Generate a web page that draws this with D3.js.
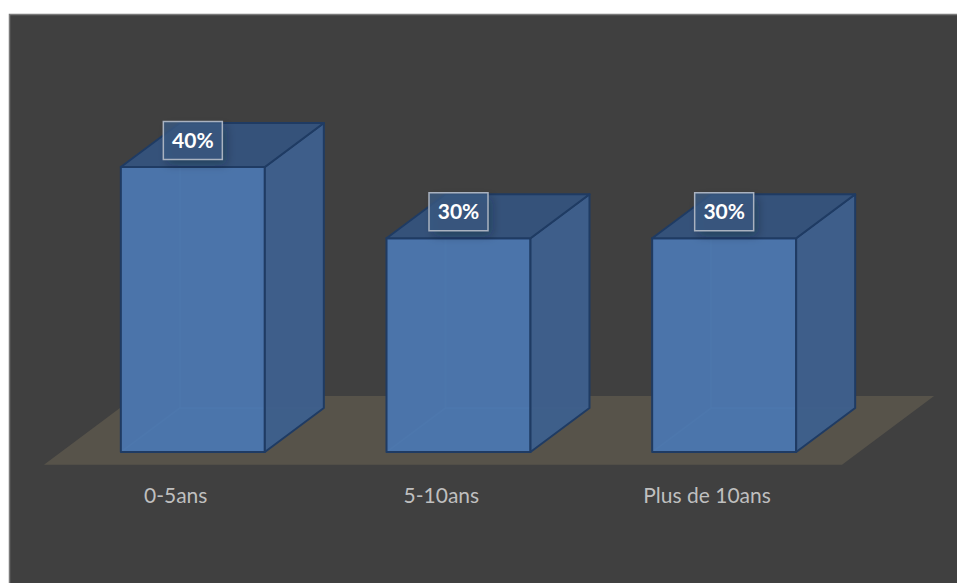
<!DOCTYPE html>
<html>
<head>
<meta charset="utf-8">
<script src="https://cdn.jsdelivr.net/npm/d3@7"></script>
<style>
  html, body { margin: 0; padding: 0; background: #ffffff; }
  svg { display: block; }
</style>
</head>
<body>
<script>
// Share of respondents by seniority band
const categories = ["0-5ans", "5-10ans", "Plus de 10ans"];
const values = [40, 30, 30];
const valueLabels = ["40%", "30%", "30%"];

const W = 957, H = 583;
const svg = d3.select("body").append("svg").attr("width", W).attr("height", H);

const defs = svg.append("defs");
const shadow = defs.append("filter").attr("id", "lblShadow")
  .attr("x", "-50%").attr("y", "-50%").attr("width", "200%").attr("height", "200%");
shadow.append("feDropShadow").attr("dx", 4).attr("dy", 5).attr("stdDeviation", 5)
  .attr("flood-color", "#0d1a2c").attr("flood-opacity", 0.55);

// chart area
svg.append("rect").attr("x", 9.5).attr("y", 14.5).attr("width", W).attr("height", H)
  .attr("fill", "#404040").attr("stroke", "#7a7a7a").attr("stroke-width", 1.5);

// scales
const x = d3.scaleBand().domain(categories).range([60, 857])
  .paddingInner(0.458).paddingOuter(0.229);
const y = d3.scaleLinear().domain([0, 40]).range([452, 167]);

// depth vector for the 3D extrusion
const dx = 59, dy = -44;
// floor extends a little in front of and behind the bars
const fFront = -0.29, fBack = 1.27;
const base = y(0);

const floorLeft = 44, floorRight = 842;
const floorPts = [
  [floorLeft, base + fFront * dy],
  [floorRight, base + fFront * dy],
  [floorRight + (fBack - fFront) * dx, base + fBack * dy],
  [floorLeft + (fBack - fFront) * dx, base + fBack * dy]
];
svg.append("polygon").attr("points", floorPts.map(p => p.join(",")).join(" "))
  .attr("fill", "#57534a");

const line = d3.line();
const pts = arr => arr.map(p => p.join(",")).join(" ");
const bars = svg.append("g");

categories.forEach((c, i) => {
  const x0 = x(c), x1 = x(c) + x.bandwidth();
  const yb = y(0), yt = y(values[i]);
  const g = bars.append("g");

  // hidden back, left and bottom faces, seen through the translucent front
  g.append("polygon")
    .attr("points", pts([[x0 + dx, yb + dy], [x1 + dx, yb + dy], [x1 + dx, yt + dy], [x0 + dx, yt + dy]]))
    .attr("fill", "#44699b");
  g.append("polygon")
    .attr("points", pts([[x0, yb], [x0 + dx, yb + dy], [x0 + dx, yt + dy], [x0, yt]]))
    .attr("fill", "#44699b");
  g.append("polygon")
    .attr("points", pts([[x0, yb], [x1, yb], [x1 + dx, yb + dy], [x0 + dx, yb + dy]]))
    .attr("fill", "#476ea3");
  g.append("path").attr("d", line([[x0, yb], [x0 + dx, yb + dy], [x1 + dx, yb + dy]]))
    .attr("fill", "none").attr("stroke", "#5a88c4").attr("stroke-width", 1.5).attr("opacity", 0.55);
  g.append("path").attr("d", line([[x0 + dx, yb + dy], [x0 + dx, yt + dy]]))
    .attr("fill", "none").attr("stroke", "#5a88c4").attr("stroke-width", 1.5).attr("opacity", 0.45);

  // front face
  g.append("polygon")
    .attr("points", pts([[x0, yb], [x1, yb], [x1, yt], [x0, yt]]))
    .attr("fill", "#4c77ad").attr("fill-opacity", 0.85)
    .attr("stroke", "#1f3b63").attr("stroke-width", 2).attr("stroke-linejoin", "round");
  // right side face
  g.append("polygon")
    .attr("points", pts([[x1, yb], [x1 + dx, yb + dy], [x1 + dx, yt + dy], [x1, yt]]))
    .attr("fill", "#3e5e89").attr("fill-opacity", 0.95)
    .attr("stroke", "#1f3b63").attr("stroke-width", 2).attr("stroke-linejoin", "round");
  // top face
  g.append("polygon")
    .attr("points", pts([[x0, yt], [x1, yt], [x1 + dx, yt + dy], [x0 + dx, yt + dy]]))
    .attr("fill", "#355279").attr("fill-opacity", 0.97)
    .attr("stroke", "#1f3b63").attr("stroke-width", 2).attr("stroke-linejoin", "round");

  // value label
  const cx = x0 + x.bandwidth() / 2, cy = yt - 26.5;
  const lbl = svg.append("g");
  lbl.append("rect").attr("x", cx - 29.5).attr("y", cy - 19).attr("width", 59).attr("height", 38)
    .attr("fill", "#39597f").attr("fill-opacity", 0.6)
    .attr("filter", "url(#lblShadow)");
  lbl.append("rect").attr("x", cx - 29.5).attr("y", cy - 19).attr("width", 59).attr("height", 38)
    .attr("fill", "#3a5a84").attr("fill-opacity", 0.5)
    .attr("stroke", "#a9b2c0").attr("stroke-width", 1.5);
  lbl.append("text").attr("x", cx).attr("y", cy + 7.5)
    .attr("text-anchor", "middle")
    .attr("font-family", "Lato, 'Open Sans', sans-serif").attr("font-weight", 700)
    .attr("font-size", 21).attr("fill", "#ffffff")
    .text(valueLabels[i]);

  // category label, centred at the floor's front edge
  svg.append("text")
    .attr("x", cx + fFront * dx).attr("y", 503)
    .attr("text-anchor", "middle")
    .attr("font-family", "Lato, 'Open Sans', sans-serif")
    .attr("font-size", 21).attr("fill", "#bfbfbf")
    .text(c);
});
</script>
</body>
</html>
